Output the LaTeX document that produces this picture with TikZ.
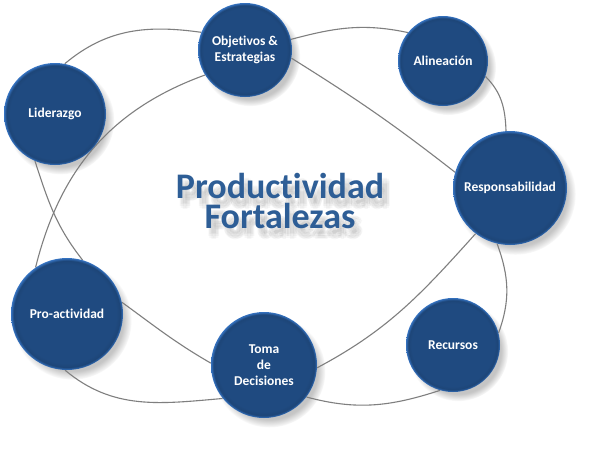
\documentclass[tikz,border=0pt]{standalone}
\usepackage{fontspec}
\setmainfont{Carlito}[Ligatures={NoCommon}]
\usetikzlibrary{shadows,fadings,calc}
\definecolor{ballfill}{HTML}{1F4A80}
\definecolor{balldark}{HTML}{1D4577}
\definecolor{ballrim}{HTML}{3573C2}
\definecolor{titleblue}{HTML}{2E5E96}
\definecolor{linegray}{HTML}{7F7F7F}
\pgfdeclareradialshading{ballshade}{\pgfpoint{0bp}{0bp}}{%
  color(0bp)=(ballfill); color(22bp)=(ballfill); color(23.8bp)=(balldark);
  color(25bp)=(ballrim); color(50bp)=(ballrim)}
\pgfdeclarelayer{bgfill}
\pgfdeclarelayer{background}
\pgfsetlayers{bgfill,background,main}
\tikzset{
  ball/.style={circle, minimum size=#1, inner sep=0pt, shading=ballshade,
    text=white, font=\fontsize{13.5}{16}\selectfont\bfseries, align=center,
    circular drop shadow={shadow xshift=5pt, shadow yshift=-6pt, shadow scale=1.06, opacity=0.45}},
  link/.style={draw=linegray, line width=1.1pt},
  titletext/.style={font=\fontsize{36}{30}\selectfont\bfseries, align=center}
}
\begin{document}
\begin{tikzpicture}[x=1pt,y=1pt]
\begin{pgfonlayer}{bgfill}
\fill[white] (0,0) rectangle (599,-450);
\end{pgfonlayer}
\useasboundingbox (0,0) rectangle (599,-450);
% title with soft (blurred) shadow
\foreach \a in {0,45,...,315}{
  \node[titletext, text=black, opacity=0.03] at ($(285,-209)+(\a:3)$) {Productividad\\Fortalezas};
}
\node[titletext, text=titleblue] (title) at (280,-201) {Productividad\\Fortalezas};
% circles
\node[ball=102pt] (lid) at (55,-114) {Liderazgo};
\node[ball=94pt]  (obj) at (245,-50) {Objetivos \&\\Estrategias};
\node[ball=90pt]  (ali) at (443,-61) {Alineación};
\node[ball=114pt] (res) at (510,-188) {Responsabilidad};
\node[ball=112pt] (pro) at (67,-314) {Pro-actividad};
\node[ball=106pt] (tom) at (264,-365) {Toma\\de\\Decisiones};
\node[ball=94pt]  (rec) at (453,-345) {Recursos};
% connectors
\begin{pgfonlayer}{background}
\draw[link] (lid.79) to[out=40,in=172] (obj.158);
\draw[link] (obj.13) to[out=15,in=168] (ali.141);
\draw[link] (obj.-10) to[out=-32,in=142] (res.164);
\draw[link] (ali.-20) to[out=-45,in=92] (res.94);
\draw[link] (res.233) to[out=228,in=28] (tom.-3);
\draw[link] (res.257) to[out=-70,in=70] (rec.15);
\draw[link] (rec.254) to[out=198,in=-15] (tom.-37);
\draw[link] (tom.178) to[out=150,in=-36] (pro.12);
\draw[link] (tom.219) to[out=185,in=-40] (pro.268);
\draw[link] (pro.124) to[out=76,in=200] (obj.212);
\draw[link] (pro.74) to[out=128,in=-72] (lid.247);
\end{pgfonlayer}
\end{tikzpicture}
\end{document}
